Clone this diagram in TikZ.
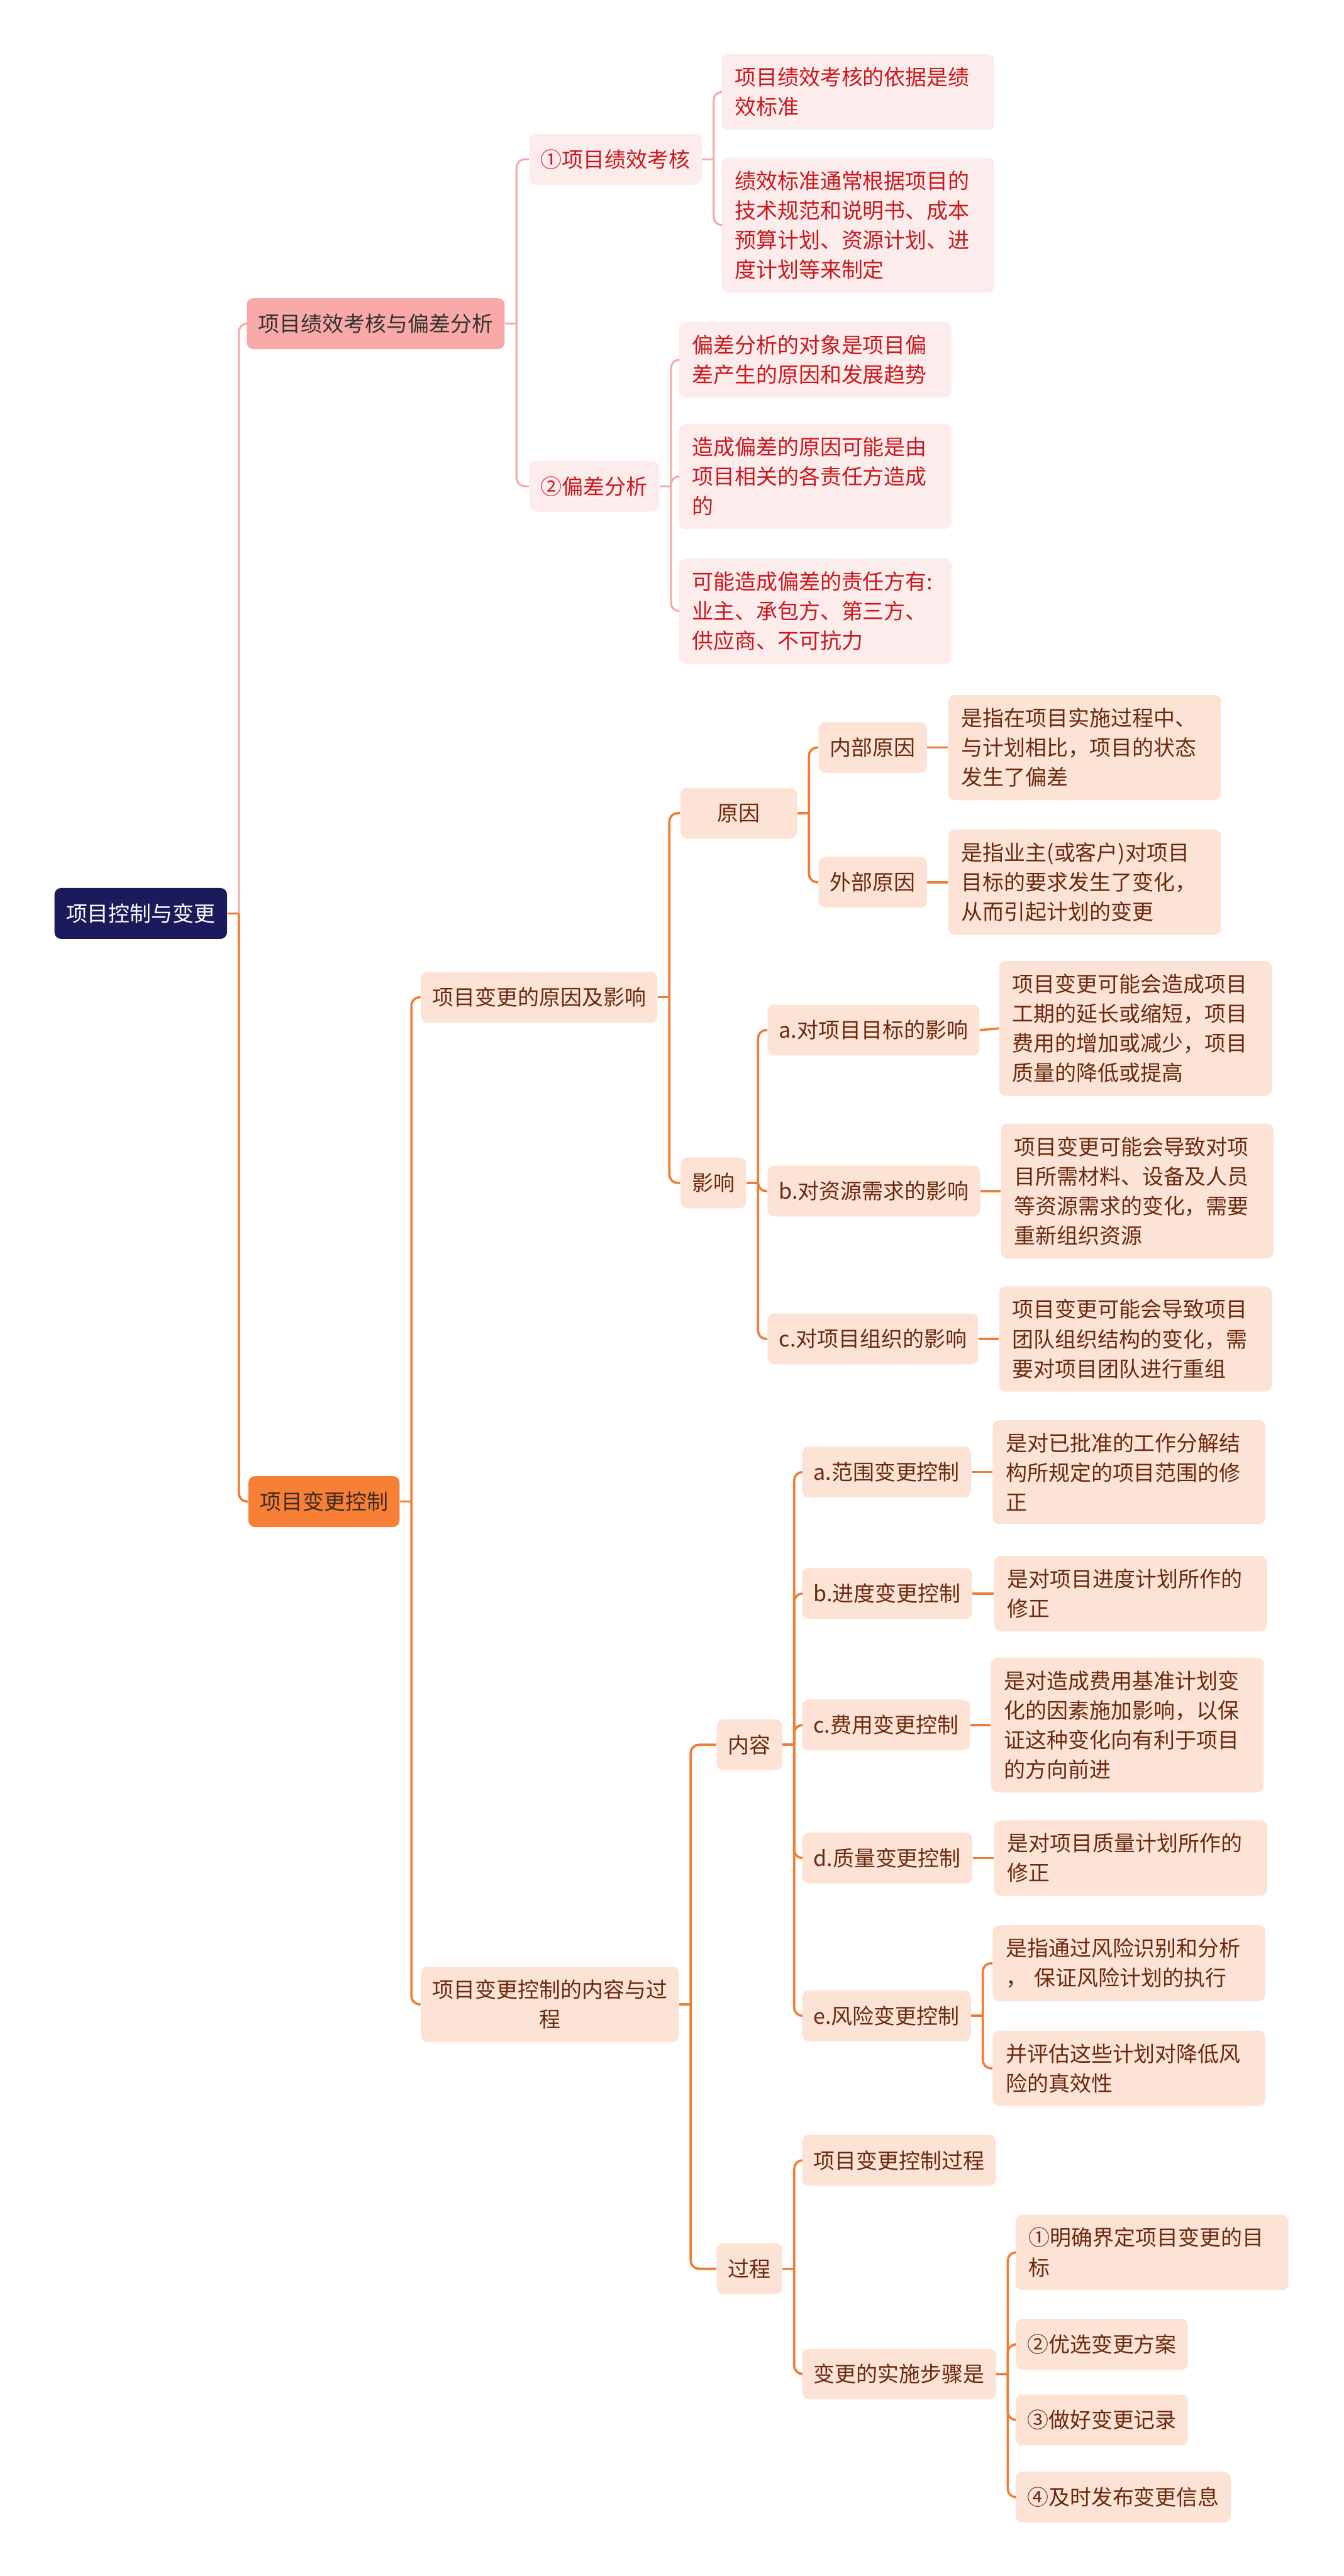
\documentclass[tikz,border=0pt]{standalone}
\usepackage{fontspec}
\setmainfont{Noto Sans CJK SC}
\usetikzlibrary{positioning,calc}

\definecolor{navy}{HTML}{1B1A5B}
\definecolor{pinkmain}{HTML}{F9AAA8}
\definecolor{pinklight}{HTML}{FDECEC}
\definecolor{pinkedge}{HTML}{F5AAA8}
\definecolor{redtext}{HTML}{C9191E}
\definecolor{darktext}{HTML}{333333}
\definecolor{orangemain}{HTML}{F77F36}
\definecolor{orangeedge}{HTML}{F07C35}
\definecolor{peach}{HTML}{FCE3D5}
\definecolor{browntext}{HTML}{6B2A0E}
\definecolor{darkbrown}{HTML}{3D2A1E}

\begin{document}
\begin{tikzpicture}[x=1pt, y=-1pt,
    base/.style={rectangle, rounded corners=4pt, anchor=west,
                 font=\fontsize{13}{18}\selectfont, inner xsep=7pt,
                 inner ysep=8pt, minimum height=31pt},
    rootbox/.style={base, fill=navy, text=white},
    pinkbox/.style={base, fill=pinkmain, text=darktext},
    pinksub/.style={base, fill=pinklight, text=redtext},
    pinkleaf/.style={pinksub, text width=150pt, inner xsep=8pt, align=left},
    orangebox/.style={base, fill=orangemain, text=darkbrown},
    peachbox/.style={base, fill=peach, text=browntext},
    peachleaf/.style={peachbox, text width=150pt, inner xsep=8pt, align=left},
    pinkline/.style={draw=pinkedge, line width=1.2pt, rounded corners=5pt},
    orangeline/.style={draw=orangeedge, line width=1.4pt, rounded corners=5pt}
]
    \useasboundingbox (0,0) rectangle (818,1568);

    % Root and main branches
    \node[rootbox]   (root)   at (33, 556)  {项目控制与变更};
    \node[pinkbox]   (perf)   at (150, 197) {项目绩效考核与偏差分析};
    \node[orangebox] (ctrl)   at (151, 914) {项目变更控制};

    % Performance branch
    \node[pinksub]  (assess)  at (322, 97)  {①项目绩效考核};
    \node[pinksub]  (devia)   at (322, 296) {②偏差分析};
    \node[pinkleaf] (assessA) at (439, 56)  {项目绩效考核的依据是绩\\效标准};
    \node[pinkleaf] (assessB) at (439, 137) {绩效标准通常根据项目的\\技术规范和说明书、成本\\预算计划、资源计划、进\\度计划等来制定};
    \node[pinkleaf] (deviaA)  at (413, 219) {偏差分析的对象是项目偏\\差产生的原因和发展趋势};
    \node[pinkleaf] (deviaB)  at (413, 290) {造成偏差的原因可能是由\\项目相关的各责任方造成\\的};
    \node[pinkleaf] (deviaC)  at (413, 372) {可能造成偏差的责任方有:\\业主、承包方、第三方、\\供应商、不可抗力};

    % Change branch: causes and impact
    \node[peachbox]  (cause)     at (256, 607) {项目变更的原因及影响};
    \node[peachbox, minimum width=71pt] (reason) at (414, 495) {原因};
    \node[peachbox]  (impact)    at (414, 720) {影响};
    \node[peachbox]  (inner)     at (498, 455) {内部原因};
    \node[peachbox]  (outer)     at (498, 537) {外部原因};
    \node[peachleaf] (innerleaf) at (577, 455) {是指在项目实施过程中、\\与计划相比，项目的状态\\发生了偏差};
    \node[peachleaf] (outerleaf) at (577, 537) {是指业主(或客户)对项目\\目标的要求发生了变化，\\从而引起计划的变更};
    \node[peachbox]  (impA)      at (467, 627) {a.对项目目标的影响};
    \node[peachbox]  (impB)      at (467, 725) {b.对资源需求的影响};
    \node[peachbox]  (impC)      at (467, 815) {c.对项目组织的影响};
    \node[peachleaf] (impAleaf)  at (608, 626) {项目变更可能会造成项目\\工期的延长或缩短，项目\\费用的增加或减少，项目\\质量的降低或提高};
    \node[peachleaf] (impBleaf)  at (609, 725) {项目变更可能会导致对项\\目所需材料、设备及人员\\等资源需求的变化，需要\\重新组织资源};
    \node[peachleaf] (impCleaf)  at (608, 815) {项目变更可能会导致项目\\团队组织结构的变化，需\\要对项目团队进行重组};

    % Change branch: content and process
    \node[peachbox, align=center] (conpro) at (256, 1220) {项目变更控制的内容与过\\程};
    \node[peachbox]  (content)   at (436, 1062) {内容};
    \node[peachbox]  (process)   at (436, 1381) {过程};
    \node[peachbox]  (scope)     at (488, 896)  {a.范围变更控制};
    \node[peachbox]  (sched)     at (488, 970)  {b.进度变更控制};
    \node[peachbox]  (cost)      at (488, 1050) {c.费用变更控制};
    \node[peachbox]  (quality)   at (488, 1131) {d.质量变更控制};
    \node[peachbox]  (risk)      at (488, 1227) {e.风险变更控制};
    \node[peachleaf] (scopeleaf) at (604, 896)  {是对已批准的工作分解结\\构所规定的项目范围的修\\正};
    \node[peachleaf] (schedleaf) at (605, 970)  {是对项目进度计划所作的\\修正};
    \node[peachleaf] (costleaf)  at (603, 1050) {是对造成费用基准计划变\\化的因素施加影响，以保\\证这种变化向有利于项目\\的方向前进};
    \node[peachleaf] (qualleaf)  at (605, 1131) {是对项目质量计划所作的\\修正};
    \node[peachleaf] (riskA)     at (604, 1195) {是指通过风险识别和分析\\， 保证风险计划的执行};
    \node[peachleaf] (riskB)     at (604, 1259) {并评估这些计划对降低风\\险的真效性};
    \node[peachbox]  (procA)     at (488, 1315) {项目变更控制过程};
    \node[peachbox]  (steps)     at (488, 1445) {变更的实施步骤是};
    \node[peachleaf] (stepA)     at (618, 1371) {①明确界定项目变更的目\\标};
    \node[peachbox]  (stepB)     at (618, 1427) {②优选变更方案};
    \node[peachbox]  (stepC)     at (618, 1473) {③做好变更记录};
    \node[peachbox]  (stepD)     at (618, 1520) {④及时发布变更信息};

    % Junction points, 7pt right of each parent
    \foreach \p in {root,perf,assess,devia,ctrl,cause,reason,impact,conpro,content,risk,process,steps}
        \coordinate (j\p) at ([xshift=7pt]\p.east);

    % Connectors
    \draw[orangeline] (root.east) -- (jroot);
    \draw[pinkline]   (jroot) |- (perf.west);
    \draw[orangeline] (jroot) |- (ctrl.west);

    \draw[pinkline] (perf.east) -- (jperf);
    \foreach \c in {assess,devia} \draw[pinkline] (jperf) |- (\c.west);
    \draw[pinkline] (assess.east) -- (jassess);
    \foreach \c in {assessA,assessB} \draw[pinkline] (jassess) |- (\c.west);
    \draw[pinkline] (devia.east) -- (jdevia);
    \foreach \c in {deviaA,deviaB,deviaC} \draw[pinkline] (jdevia) |- (\c.west);

    \draw[orangeline] (ctrl.east) -- (jctrl);
    \foreach \c in {cause,conpro} \draw[orangeline] (jctrl) |- (\c.west);
    \draw[orangeline] (cause.east) -- (jcause);
    \foreach \c in {reason,impact} \draw[orangeline] (jcause) |- (\c.west);
    \draw[orangeline] (reason.east) -- (jreason);
    \foreach \c in {inner,outer} \draw[orangeline] (jreason) |- (\c.west);
    \draw[orangeline] (inner.east) -- (innerleaf.west);
    \draw[orangeline] (outer.east) -- (outerleaf.west);
    \draw[orangeline] (impact.east) -- (jimpact);
    \foreach \c in {impA,impB,impC} \draw[orangeline] (jimpact) |- (\c.west);
    \draw[orangeline] (impA.east) -- (impAleaf.west);
    \draw[orangeline] (impB.east) -- (impBleaf.west);
    \draw[orangeline] (impC.east) -- (impCleaf.west);

    \draw[orangeline] (conpro.east) -- (jconpro);
    \foreach \c in {content,process} \draw[orangeline] (jconpro) |- (\c.west);
    \draw[orangeline] (content.east) -- (jcontent);
    \foreach \c in {scope,sched,cost,quality,risk} \draw[orangeline] (jcontent) |- (\c.west);
    \draw[orangeline] (scope.east) -- (scopeleaf.west);
    \draw[orangeline] (sched.east) -- (schedleaf.west);
    \draw[orangeline] (cost.east) -- (costleaf.west);
    \draw[orangeline] (quality.east) -- (qualleaf.west);
    \draw[orangeline] (risk.east) -- (jrisk);
    \foreach \c in {riskA,riskB} \draw[orangeline] (jrisk) |- (\c.west);
    \draw[orangeline] (process.east) -- (jprocess);
    \foreach \c in {procA,steps} \draw[orangeline] (jprocess) |- (\c.west);
    \draw[orangeline] (steps.east) -- (jsteps);
    \foreach \c in {stepA,stepB,stepC,stepD} \draw[orangeline] (jsteps) |- (\c.west);
\end{tikzpicture}
\end{document}
